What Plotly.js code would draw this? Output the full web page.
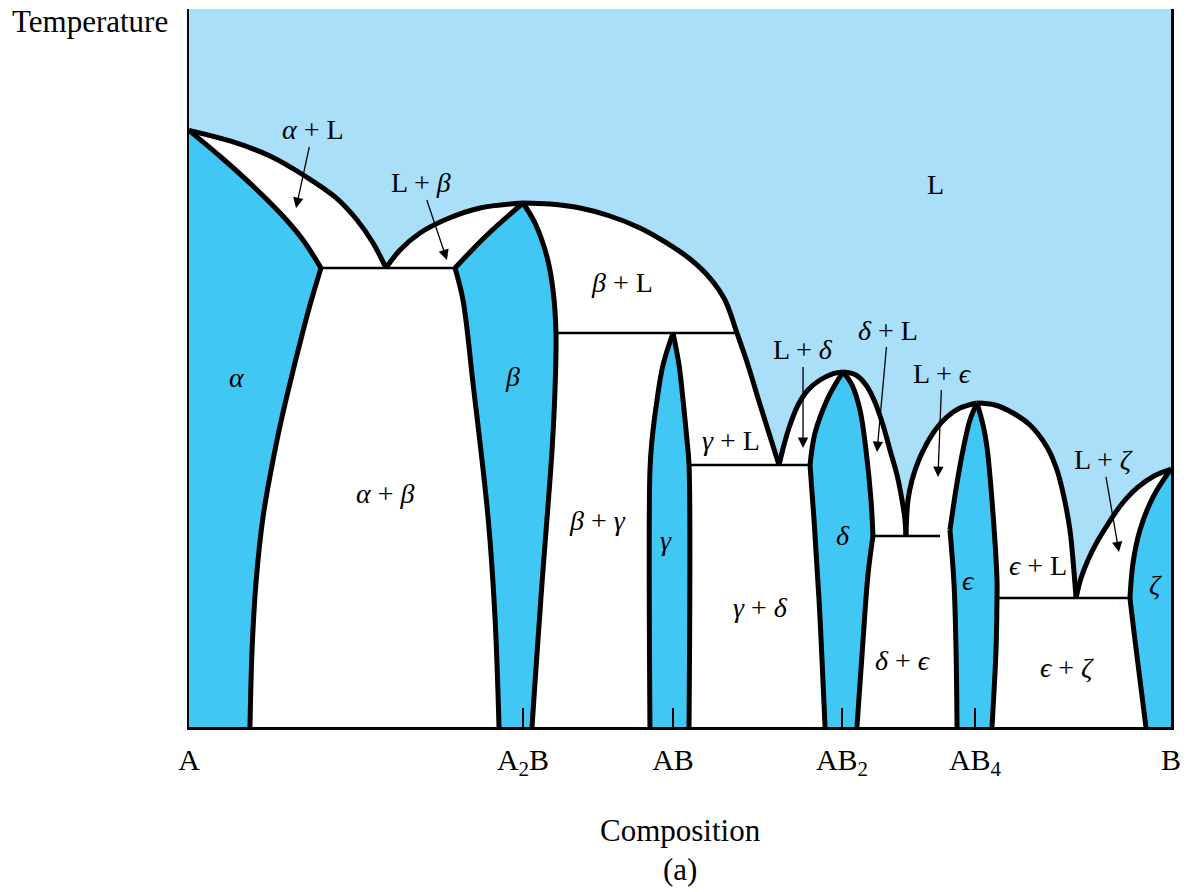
<!DOCTYPE html>
<html>
<head>
<meta charset="utf-8">
<script src="https://cdn.plot.ly/plotly-3.0.1.min.js"></script>
<style>
  html, body { margin: 0; padding: 0; background: #ffffff; }
  #chart { width: 1191px; height: 892px; }
</style>
</head>
<body>
<div id="chart"></div>
<script>
// Binary phase diagram A–B with intermediate compounds.
// Composition runs 0 (pure A) to 100 (pure B); temperature is on a relative 0–100 scale.

// Compound positions along the composition axis
const compoundX = [0, 34.01, 49.29, 66.50, 80.04, 100];
const compoundLabels = ['A', 'A<sub>2</sub>B', 'AB', 'AB<sub>2</sub>', 'AB<sub>4</sub>', 'B'];

// Liquidus segments, left to right
const liqAlpha  = [[0,83.1],[4.18,81.62],[8.25,79.53],[11.81,76.74],[14.87,73.82],[17.11,70.61],[18.74,67.41],[20.06,63.93]];
const liqBetaL  = [[20.06,63.93],[21.49,66.43],[23.52,68.80],[26.27,70.75],[29.63,72.28],[34.01,72.98]];
const liqBetaR  = [[34.01,72.98],[36.76,72.84],[39.82,72.28],[42.87,71.17],[45.93,69.50],[48.47,67.55],[51.02,65.18],[53.05,62.53],[54.58,59.47],[55.80,54.87],[56.92,50.42],[57.94,45.82],[58.96,41.36],[60.08,36.49]];
const liqDeltaL = [[60.08,36.49],[60.59,39.28],[61.20,42.06],[62.02,44.85],[63.03,46.94],[64.26,48.33],[65.48,49.16],[66.60,49.44]];
const liqDeltaR = [[66.60,49.44],[67.92,49.03],[68.94,47.63],[69.76,45.54],[70.67,42.06],[71.38,38.58],[72.10,35.10],[72.61,31.62],[72.91,28.83],[73.01,26.60]];
const liqEpsL   = [[73.01,26.60],[73.22,31.62],[73.63,34.40],[74.24,36.91],[75.05,39.28],[76.07,41.50],[77.19,43.18],[78.51,44.43],[80.24,45.13]];
const liqEpsR   = [[80.24,45.13],[82.08,44.85],[83.91,43.73],[85.64,42.06],[87.37,39.00],[88.39,35.79],[89.10,32.03],[89.71,27.44],[90.02,23.26],[90.33,17.97]];
const liqZeta   = [[90.33,17.97],[90.84,20.75],[91.55,23.26],[92.46,25.77],[93.58,28.27],[94.91,30.92],[96.54,33.29],[98.27,34.96],[100,35.93]];

// Single-phase field boundaries (solidus / solvus)
const solAlpha   = [[0,83.1],[3.36,79.25],[6.62,75.21],[9.47,71.31],[11.61,67.83],[13.44,63.93]];
const solvAlpha  = [[13.44,63.93],[12.32,58.77],[11.30,53.48],[10.29,47.91],[9.47,43.18],[8.76,38.58],[7.54,29.25],[6.82,20.06],[6.42,10.72],[6.21,0]];
const betaTopL   = [[27.09,63.93],[30.35,68.52],[34.01,72.98]];
const betaLeft   = [[27.09,63.93],[27.90,59.47],[28.92,47.91],[30.45,29.25],[31.16,15.32],[31.57,0]];
const betaRight  = [[34.01,72.98],[35.23,70.19],[36.46,65.46],[37.07,60.86],[37.37,54.87],[37.27,46.94],[36.97,38.58],[35.95,20.06],[35.23,6.13],[34.93,0]];
const gammaLeft  = [[49.29,54.87],[48.27,50.42],[47.66,45.54],[47.15,39.97],[46.94,35.79],[46.94,0]];
const gammaRight = [[49.29,54.87],[49.90,50.42],[50.31,45.54],[50.71,39.97],[50.92,36.49],[50.92,0]];
const deltaLeftUp  = [[66.60,49.44],[65.78,47.63],[64.97,45.54],[63.75,40.95],[63.24,36.49]];
const deltaLeftLow = [[63.24,36.49],[63.65,28.83],[64.16,17.69],[64.77,0]];
const deltaRightUp  = [[66.60,49.44],[67.52,47.63],[68.33,44.15],[68.94,38.58],[69.45,31.62],[69.65,26.60]];
const deltaRightLow = [[69.65,26.60],[69.14,21.17],[68.64,12.12],[68.02,0]];
const epsLeftUp  = [[80.24,45.13],[79.53,42.76],[78.82,38.58],[78.21,33.98],[77.49,27.44]];
const epsLeftLow = [[77.49,27.44],[77.90,20.06],[78.11,10.72],[78.21,0]];
const epsRight   = [[80.24,45.13],[80.86,42.06],[81.26,39.00],[81.87,29.81],[82.28,20.47],[82.28,17.97],[82.18,10.72],[81.77,0]];
const zetaUp     = [[100,35.93],[98.17,32.03],[96.84,27.44],[96.13,22.84],[95.82,17.97]];
const zetaLow    = [[95.82,17.97],[96.33,12.12],[97.45,0]];

// Invariant (three-phase) horizontals
const tieLines = [
  [[13.44,63.93],[27.09,63.93]],
  [[37.37,54.87],[55.80,54.87]],
  [[50.92,36.49],[63.24,36.49]],
  [[69.65,26.60],[76.48,26.60]],
  [[82.28,17.97],[95.82,17.97]]
];

// Phase-field labels: [text, composition, temperature]
const fieldLabels = [
  ['L', 75.97, 75.49],
  ['<i>β</i> + L', 44.09, 61.84],
  ['<i>α</i>', 4.89, 48.61],
  ['<i>β</i>', 32.99, 48.75],
  ['<i>α</i> + <i>β</i>', 19.96, 32.59],
  ['<i>β</i> + <i>γ</i>', 41.55, 28.83],
  ['<i>γ</i>', 48.57, 26.04],
  ['<i>γ</i> + L', 55.19, 39.97],
  ['<i>γ</i> + <i>δ</i>', 58.15, 16.71],
  ['<i>δ</i>', 66.60, 26.74],
  ['<i>δ</i> + <i>ϵ</i>', 72.71, 9.33],
  ['<i>ϵ</i>', 79.33, 20.47],
  ['<i>ϵ</i> + L', 86.46, 22.56],
  ['<i>ϵ</i> + <i>ζ</i>', 89.41, 8.22],
  ['<i>ζ</i>', 98.47, 19.78]
];

// Labels for the narrow two-phase fields, with the point their arrow reaches:
// [text, labelX, labelY, tipX, tipY]
const pointedLabels = [
  ['<i>α</i> + L', 12.63, 83.15, 10.90, 72.28],
  ['L + <i>β</i>', 23.63, 75.77, 26.27, 65.04],
  ['L + <i>δ</i>', 62.53, 52.51, 62.53, 38.86],
  ['<i>δ</i> + L', 71.18, 55.29, 70.06, 38.30],
  ['L + <i>ϵ</i>', 76.68, 49.30, 76.27, 34.82],
  ['L + <i>ζ</i>', 93.08, 37.19, 94.70, 24.37]
];

const LIQUID = '#a9dff9';
const SOLID = '#41c7f3';
const SERIF = 'Liberation Serif, Times New Roman, serif';
const LABEL_SIZE = 28;

const xs = pts => pts.map(p => p[0]);
const ys = pts => pts.map(p => p[1]);
const rev = pts => pts.slice().reverse();

function area(pts, color) {
  return { x: xs(pts), y: ys(pts), mode: 'lines', fill: 'toself', fillcolor: color,
           line: { width: 0, color: color }, hoverinfo: 'skip', showlegend: false };
}
function curve(pts, width, shape) {
  return { x: xs(pts), y: ys(pts), mode: 'lines',
           line: { color: '#000000', width: width, shape: shape || 'spline', smoothing: 1 },
           hoverinfo: 'skip', showlegend: false };
}

const liquidus = [liqAlpha, liqBetaL, liqBetaR, liqDeltaL, liqDeltaR, liqEpsL, liqEpsR, liqZeta];

const traces = [];
// everything below the liquidus is solid-bearing (white two-phase fields)
traces.push(area([].concat(...liquidus, [[100,0],[0,0]]), '#ffffff'));
// single-phase solid solutions
traces.push(area([].concat(solAlpha, solvAlpha.slice(1), [[0,0]]), SOLID));
traces.push(area([].concat(betaTopL, betaRight.slice(1), rev(betaLeft)), SOLID));
traces.push(area([].concat(gammaLeft, rev(gammaRight)), SOLID));
traces.push(area([].concat(deltaLeftUp, deltaLeftLow.slice(1), rev(deltaRightUp.concat(deltaRightLow.slice(1)))), SOLID));
traces.push(area([].concat(epsLeftUp, epsLeftLow.slice(1), rev(epsRight)), SOLID));
traces.push(area([].concat(zetaUp, zetaLow.slice(1), [[100,0]]), SOLID));

// thin invariant lines
tieLines.forEach(t => traces.push(curve(t, 2.4, 'linear')));
// heavy phase boundaries
[solAlpha, solvAlpha, betaTopL, betaLeft, betaRight, gammaLeft, gammaRight,
 deltaLeftUp, deltaLeftLow, deltaRightUp, deltaRightLow,
 epsLeftUp, epsLeftLow, epsRight, zetaUp, zetaLow].forEach(b => traces.push(curve(b, 5)));
liquidus.forEach(l => traces.push(curve(l, 5)));

const labelFont = { family: SERIF, size: LABEL_SIZE, color: '#000000' };
const annotations = [];
fieldLabels.forEach(([t, x, y]) => annotations.push({
  x: x, y: y, xref: 'x', yref: 'y', text: t, showarrow: false, font: labelFont
}));
pointedLabels.forEach(([t, lx, ly, hx, hy]) => annotations.push({
  x: hx, y: hy, ax: lx, ay: ly, xref: 'x', yref: 'y', axref: 'x', ayref: 'y',
  text: t, font: labelFont, showarrow: true, arrowhead: 2, arrowsize: 1.6,
  arrowwidth: 1.3, arrowcolor: '#000000', standoff: 0
}));
const axisFont = { family: SERIF, size: 31, color: '#000000' };
annotations.push({ xref: 'paper', yref: 'paper', x: -0.1008, y: 0.982, xanchor: 'center', yanchor: 'middle',
  text: 'Temperature', showarrow: false, font: axisFont });
annotations.push({ xref: 'paper', yref: 'paper', x: 0.5, y: -0.1435, xanchor: 'center', yanchor: 'middle',
  text: 'Composition', showarrow: false, font: axisFont });
annotations.push({ xref: 'paper', yref: 'paper', x: 0.5, y: -0.199, xanchor: 'center', yanchor: 'middle',
  text: '(a)', showarrow: false, font: axisFont });

const layout = {
  width: 1191, height: 892,
  margin: { l: 189, r: 20, t: 9, b: 165 },
  paper_bgcolor: '#ffffff',
  plot_bgcolor: LIQUID,
  showlegend: false,
  xaxis: {
    range: [0, 100], showgrid: false, zeroline: false,
    showline: true, linecolor: '#000000', linewidth: 2.5, mirror: false,
    tickmode: 'array', tickvals: compoundX, ticktext: compoundLabels,
    ticks: 'inside', ticklen: 19, tickwidth: 1.3, tickcolor: '#000000',
    ticklabelstandoff: 4,
    tickfont: { family: SERIF, size: 30, color: '#000000' },
    fixedrange: true
  },
  yaxis: {
    range: [0, 100], showgrid: false, zeroline: false,
    showline: true, linecolor: '#000000', linewidth: 2.5, mirror: true,
    showticklabels: false, ticks: '', fixedrange: true
  },
  annotations: annotations
};

Plotly.newPlot('chart', traces, layout, { displayModeBar: false, staticPlot: true });
</script>
</body>
</html>
